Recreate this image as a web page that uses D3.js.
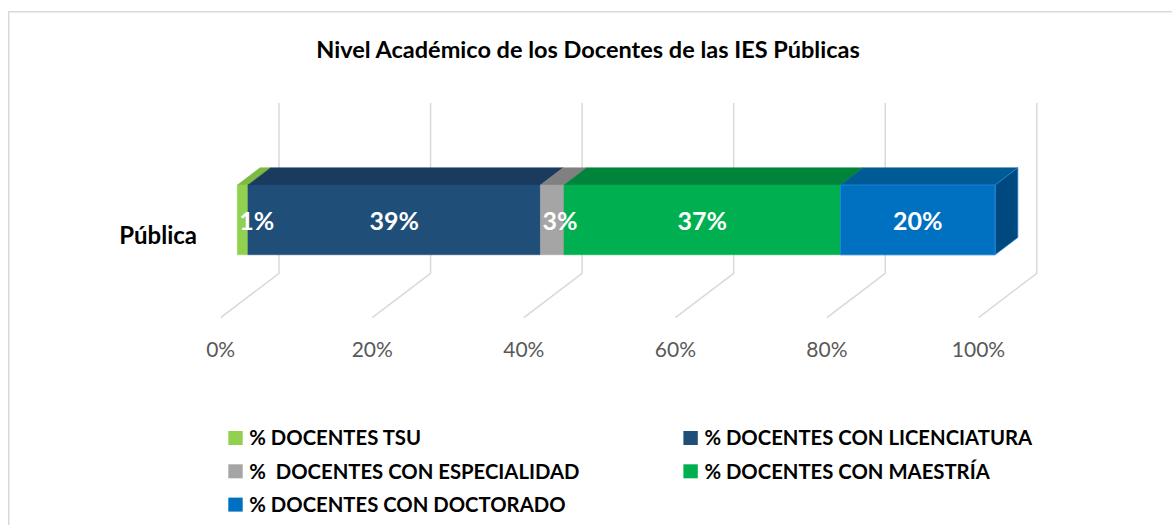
<!DOCTYPE html>
<html>
<head>
<meta charset="utf-8">
<script src="https://cdn.jsdelivr.net/npm/d3@7"></script>
<style>
  html, body { margin: 0; padding: 0; background: #ffffff; }
  svg { display: block; }
  text { font-family: Lato, "Open Sans", sans-serif; }
</style>
</head>
<body>
<svg id="chart" width="1172" height="525"></svg>
<script>
// ---------------- DATA ----------------
const chartTitle = "Nivel Académico de los Docentes de las IES Públicas";
const categories = ["Pública"];
const seriesNames = [
  "% DOCENTES TSU",
  "% DOCENTES CON LICENCIATURA",
  "%  DOCENTES CON ESPECIALIDAD",
  "% DOCENTES CON MAESTRÍA",
  "% DOCENTES CON DOCTORADO"
];
const values = [1.4, 38.6, 3.1, 36.5, 20.4];   // percent of docentes, category "Pública"
const tickValues = [0, 20, 40, 60, 80, 100];
const tickLabels = ["0%", "20%", "40%", "60%", "80%", "100%"];

// ---------------- STYLE ----------------
const frontColors = ["#92D050", "#1F4E79", "#A5A5A5", "#00B050", "#0070C0"];
const topColors   = ["#7DBA40", "#1A3B5E", "#808080", "#00843C", "#005A96"];
const sideColors  = ["#6E9E3A", "#163350", "#6E6E6E", "#006E32", "#00497F"];

// ---------------- LAYOUT ----------------
const W = 1172, H = 525;
const floorFrontY = 317.7, wallH = 170.3;
const depthDX = 58.3, depthDY = 44.4;     // full floor depth (front -> back)
const barF1 = 0.285, barF2 = 0.675;       // bar occupies this depth range

const svg = d3.select("#chart");

// frame
svg.append("rect")
  .attr("x", 8.75).attr("y", 11.75)
  .attr("width", W + 20).attr("height", H + 20)
  .attr("fill", "#ffffff")
  .attr("stroke", "#d9d9d9").attr("stroke-width", 1.5);

// title
svg.append("text")
  .attr("x", 588).attr("y", 57.5)
  .attr("text-anchor", "middle")
  .attr("font-size", 23.5).attr("font-weight", 700)
  .attr("fill", "#000000")
  .text(chartTitle);

// scales (front plane)
const x = d3.scaleLinear().domain([0, 100]).range([220.7, 978.5]);
const y = d3.scaleBand().domain(categories)
  .range([floorFrontY - wallH, floorFrontY]).padding(0.419);

const proj = (v, yy, f) => [x(v) + f * depthDX, yy - f * depthDY];

// gridlines: back wall vertical + floor diagonal
const grid = svg.append("g").attr("fill", "none")
  .attr("stroke", "#d9d9d9").attr("stroke-width", 1.5);
tickValues.forEach(t => {
  const top = proj(t, floorFrontY - wallH, 1);
  const bot = proj(t, floorFrontY, 1);
  const fr = proj(t, floorFrontY, 0);
  grid.append("path")
    .attr("d", d3.line()([top, bot, fr]));
});

// tick labels
svg.append("g").selectAll("text").data(tickValues).join("text")
  .attr("x", d => x(d))
  .attr("y", 356.5)
  .attr("text-anchor", "middle")
  .attr("font-size", 21)
  .attr("fill", "#595959")
  .text((d, i) => tickLabels[i]);

// stacked data
const row = { category: categories[0] };
seriesNames.forEach((s, i) => row[s] = values[i]);
const stacked = d3.stack().keys(seriesNames)([row]);

const barG = svg.append("g");
stacked.forEach((layer, i) => {
  const d = layer[0];
  const v0 = d[0], v1 = d[1];
  const yTop = y(d.data.category), yBot = yTop + y.bandwidth();
  const f = [proj(v0, yTop, barF1), proj(v1, yTop, barF1), proj(v1, yBot, barF1), proj(v0, yBot, barF1)];
  const t = [proj(v0, yTop, barF1), proj(v1, yTop, barF1), proj(v1, yTop, barF2), proj(v0, yTop, barF2)];
  barG.append("path").attr("d", d3.line()(t) + "Z")
    .attr("fill", topColors[i]).attr("stroke", topColors[i]).attr("stroke-width", 0.5);
  barG.append("path").attr("d", d3.line()(f) + "Z")
    .attr("fill", frontColors[i]).attr("stroke", frontColors[i]).attr("stroke-width", 0.5);
  if (i === stacked.length - 1) {
    const s = [proj(v1, yTop, barF1), proj(v1, yTop, barF2), proj(v1, yBot, barF2), proj(v1, yBot, barF1)];
    barG.append("path").attr("d", d3.line()(s) + "Z")
      .attr("fill", sideColors[i]).attr("stroke", "#2A86D6").attr("stroke-width", 0.8);
    barG.append("path").attr("d", d3.line()(f) + "Z")
      .attr("fill", "none").attr("stroke", "#2A86D6").attr("stroke-width", 0.8);
  }
});

// data labels
const labG = svg.append("g");
stacked.forEach((layer, i) => {
  const d = layer[0];
  const v0 = d[0], v1 = d[1];
  const yTop = y(d.data.category);
  const left = proj(v0, yTop, barF1)[0], right = proj(v1, yTop, barF1)[0];
  const txt = labG.append("text")
    .attr("y", 230)
    .attr("text-anchor", "middle")
    .attr("font-size", 25).attr("font-weight", 700)
    .attr("fill", "#ffffff")
    .text(Math.round(values[i]) + "%");
  const w = txt.node().getComputedTextLength();
  const cx = Math.max((left + right) / 2, left + 2 + w / 2);
  txt.attr("x", cx);
});

// category label
svg.append("text")
  .attr("x", 197).attr("y", 244)
  .attr("text-anchor", "end")
  .attr("font-size", 24).attr("font-weight", 700)
  .attr("fill", "#000000")
  .text(categories[0]);

// legend
const legendPos = [[228.3, 431], [683.4, 431], [228.3, 464.3], [683.4, 464.3], [228.3, 497.6]];
const lg = svg.append("g");
seriesNames.forEach((s, i) => {
  const [lx, ly] = legendPos[i];
  lg.append("rect").attr("x", lx).attr("y", ly).attr("width", 14.4).attr("height", 14)
    .attr("fill", frontColors[i]);
  lg.append("text")
    .attr("x", lx + 21).attr("y", ly + 14.3)
    .attr("font-size", 20.3).attr("font-weight", 700)
    .attr("fill", "#000000")
    .attr("xml:space", "preserve")
    .style("white-space", "pre")
    .text(s);
});
</script>
</body>
</html>
